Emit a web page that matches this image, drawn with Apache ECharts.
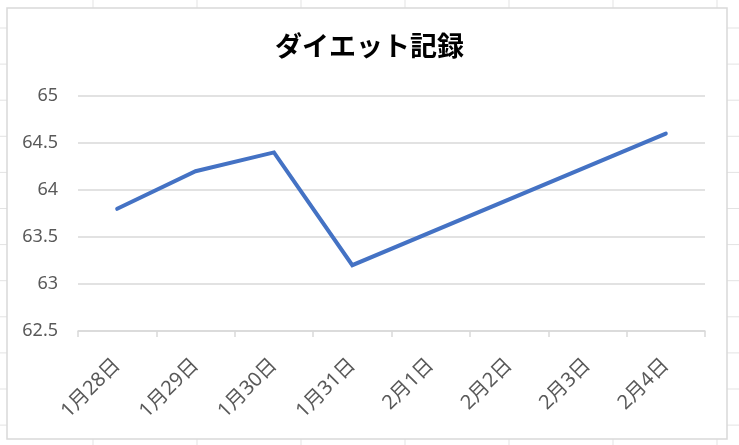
<!DOCTYPE html>
<html>
<head>
<meta charset="utf-8">
<script src="https://cdn.jsdelivr.net/npm/echarts@6/dist/echarts.min.js"></script>
<style>
  html, body { margin: 0; padding: 0; background: #fff; }
  #main { width: 739px; height: 445px; }
</style>
</head>
<body>
<div id="main"></div>
<script>
// データ
const categories = ['1月28日', '1月29日', '1月30日', '1月31日', '2月1日', '2月2日', '2月3日', '2月4日']
// 2/1〜2/3 は空欄（線でつなぐ）
const weights = [63.8, 64.2, 64.4, 63.2, null, null, null, 64.6]
const yMin = 62.5
const yMax = 65
const yStep = 0.5

const chart = echarts.init(document.getElementById('main'))

// 背景のシートの罫線
const sheetLines = []
for (let x = 93; x < 739; x += 104) {
  sheetLines.push({ type: 'line', z: -10, shape: { x1: x, y1: 0, x2: x, y2: 445 }, style: { stroke: '#e3e3e3', lineWidth: 1 } })
}
for (let y = 28; y < 445; y += 36.1) {
  sheetLines.push({ type: 'line', z: -10, shape: { x1: 0, y1: y, x2: 739, y2: y }, style: { stroke: '#e3e3e3', lineWidth: 1 } })
}
// グラフエリアの枠
sheetLines.push({
  type: 'rect', z: -5,
  shape: { x: 7, y: 8, width: 720, height: 431 },
  style: { fill: '#fff', stroke: '#d9d9d9', lineWidth: 1.5 }
})

const option = {
  backgroundColor: '#fff',
  graphic: sheetLines,
  title: {
    text: 'ダイエット記録',
    left: 'center',
    top: 32,
    padding: 0,
    textStyle: {
      fontFamily: '"Noto Sans CJK JP"',
      fontSize: 27,
      fontWeight: 'bold',
      color: '#000'
    }
  },
  grid: { left: 78, right: 34, top: 96, bottom: 114 },
  xAxis: {
    type: 'category',
    data: categories,
    boundaryGap: true,
    axisLine: { lineStyle: { color: '#d9d9d9', width: 1.5 } },
    axisTick: { show: true, length: 6, lineStyle: { color: '#d9d9d9', width: 1.5 } },
    axisLabel: {
      rotate: 45,
      margin: 31,
      color: '#595959',
      fontSize: 20,
      fontFamily: '"Noto Sans", "Noto Sans CJK JP"'
    }
  },
  yAxis: {
    type: 'value',
    min: yMin,
    max: yMax,
    interval: yStep,
    axisLine: { show: false },
    axisTick: { show: false },
    splitLine: { lineStyle: { color: '#d9d9d9', width: 1.5 } },
    axisLabel: {
      margin: 20,
      color: '#595959',
      fontSize: 18,
      fontFamily: '"Noto Sans"'
    }
  },
  series: [
    {
      type: 'line',
      data: weights,
      connectNulls: true,
      showSymbol: false,
      symbol: 'none',
      lineStyle: { color: '#4472C4', width: 4, cap: 'round', join: 'miter' },
      animation: false
    }
  ]
}

chart.setOption(option)
</script>
</body>
</html>
